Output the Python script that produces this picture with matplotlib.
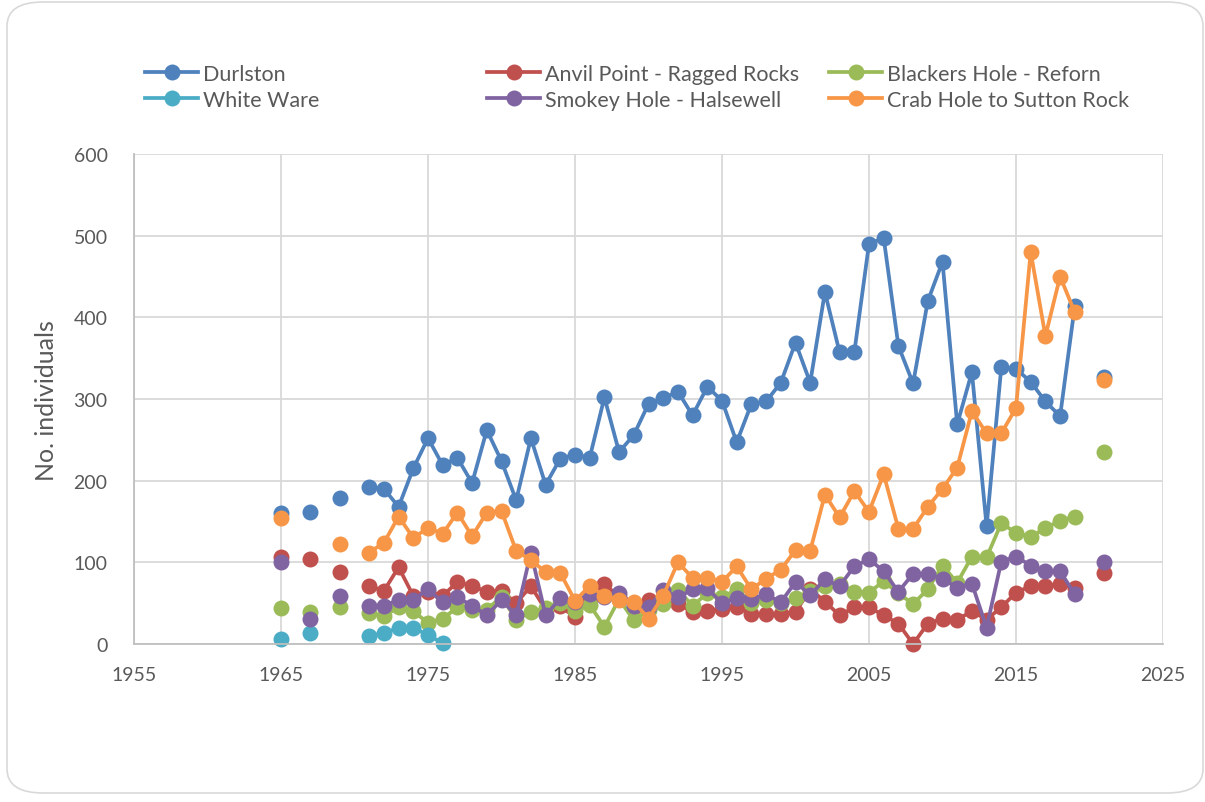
import numpy as np
import matplotlib
matplotlib.use("Agg")
import matplotlib.pyplot as plt
from matplotlib.patches import FancyBboxPatch

plt.rcParams['font.family'] = ['Lato', 'DejaVu Sans']

years = list(range(1965, 2022))
N = None

durlston = [160, N, 162, N, 179, N, 192, 190, 168, 215, 252, 219, 228, 197, 262, 224,
            176, 252, 195, 227, 232, 228, 302, 235, 256, 294, 301, 309, 280, 315, 298,
            247, 294, 297, 320, 369, 320, 431, 357, 357, 490, 497, 365, 319, 420, 468,
            269, 333, 144, 339, 337, 321, 297, 279, 414, N, 327]
anvil = [106, N, 104, N, 88, N, 71, 65, 94, 59, 64, 59, 76, 71, 64, 65,
         50, 71, 42, 46, 33, 56, 74, 57, 45, 54, 50, 49, 39, 41, 43,
         45, 37, 37, 37, 39, 67, 52, 35, 45, 45, 35, 25, 0, 25, 31,
         30, 40, 30, 45, 63, 71, 71, 73, 69, N, 87]
blackers = [44, N, 39, N, 45, N, 38, 34, 45, 40, 26, 31, 45, 42, 42, 58,
            30, 39, 44, 50, 40, 48, 21, 55, 29, 42, 49, 66, 47, 62, 57,
            67, 50, 54, 50, 56, 65, 71, 74, 64, 63, 77, 62, 49, 67, 96,
            75, 107, 106, 148, 136, 131, 142, 151, 156, N, 235]
white_ware = [6, N, 13, N, N, N, 10, 13, 20, 20, 11, 1, N, N, N, N,
              N, N, N, N, N, N, N, N, N, N, N, N, N, N, N,
              N, N, N, N, N, N, N, N, N, N, N, N, N, N, N,
              N, N, N, N, N, N, N, N, N, N, N]
smokey = [101, N, 31, N, 59, N, 47, 47, 54, 54, 67, 51, 57, 47, 35, 54,
          35, 112, 35, 56, 52, 61, 57, 63, 47, 45, 66, 57, 67, 68, 50,
          56, 55, 61, 51, 76, 60, 79, 71, 95, 104, 89, 64, 86, 86, 80,
          69, 74, 20, 101, 107, 96, 89, 89, 61, N, 101]
crab = [154, N, N, N, 123, N, 112, 124, 156, 130, 142, 135, 161, 132, 161, 163,
        114, 103, 88, 87, 53, 71, 59, 54, 52, 31, 59, 100, 81, 81, 76,
        95, 67, 80, 91, 115, 114, 183, 155, 187, 162, 208, 141, 141, 168, 190,
        216, 285, 258, 258, 289, 480, 377, 450, 406, N, 323]

names = ["Durlston", "Anvil Point - Ragged Rocks", "Blackers Hole - Reforn",
         "White Ware", "Smokey Hole - Halsewell", "Crab Hole to Sutton Rock"]
series = [durlston, anvil, blackers, white_ware, smokey, crab]
colors = ["#4F81BD", "#C0504D", "#9BBB59", "#4BACC6", "#8064A2", "#F79646"]

W, H = 1205, 803
fig = plt.figure(figsize=(W / 100, H / 100), dpi=100)

# rounded chart border
border = FancyBboxPatch((7 / W, 9 / H), 1196 / W, 791 / H,
                        boxstyle="round,pad=0,rounding_size=0.03",
                        transform=fig.transFigure, facecolor="white",
                        edgecolor="#D9D9D9", linewidth=1.2, zorder=-10)
fig.patches.append(border)

ax = fig.add_axes([134 / W, 1 - 645 / H, (1163 - 134) / W, (645 - 155) / H])
ax.set_facecolor("none")

lines = []
for vals, name, c in zip(series, names, colors):
    y = np.array([np.nan if v is None else v for v in vals], dtype=float)
    ln, = ax.plot(years, y, color=c, lw=2.7, marker="o", markersize=11.5,
                  markeredgewidth=0, label=name, clip_on=False)
    lines.append(ln)

ax.set_xlim(1955, 2025)
ax.set_ylim(0, 600)
ax.set_xticks(range(1955, 2026, 10))
ax.set_yticks(range(0, 601, 100))
ax.grid(True, color="#D9D9D9", lw=1.3)
ax.set_axisbelow(True)
for s in ["top", "right"]:
    ax.spines[s].set_visible(False)
ax.spines["left"].set_color("#BFBFBF")
ax.spines["bottom"].set_color("#BFBFBF")
ax.spines["left"].set_linewidth(1.3)
ax.spines["bottom"].set_linewidth(1.3)
ax.tick_params(axis="both", length=0, labelsize=14, labelcolor="#595959")
ax.tick_params(axis="x", pad=16)
ax.tick_params(axis="y", pad=19)

# axis title
fig.text(47 / W, 1 - 401 / H, "No. individuals", rotation=90, ha="center",
         va="center", fontsize=18, color="#595959")

# legend: three columns placed by hand, two rows each
col_x = [145, 487, 829]
for i, x0 in enumerate(col_x):
    hs = [lines[i], lines[i + 3]]
    fig.legend(hs, [h.get_label() for h in hs], loc="upper left",
               bbox_to_anchor=(x0 / W, 1 - 65 / H), frameon=False,
               fontsize=15.5, handlelength=2.47, handletextpad=0.23,
               borderpad=0, borderaxespad=0, labelspacing=0.28,
               labelcolor="#595959")

fig.savefig("out.png", dpi=100)
